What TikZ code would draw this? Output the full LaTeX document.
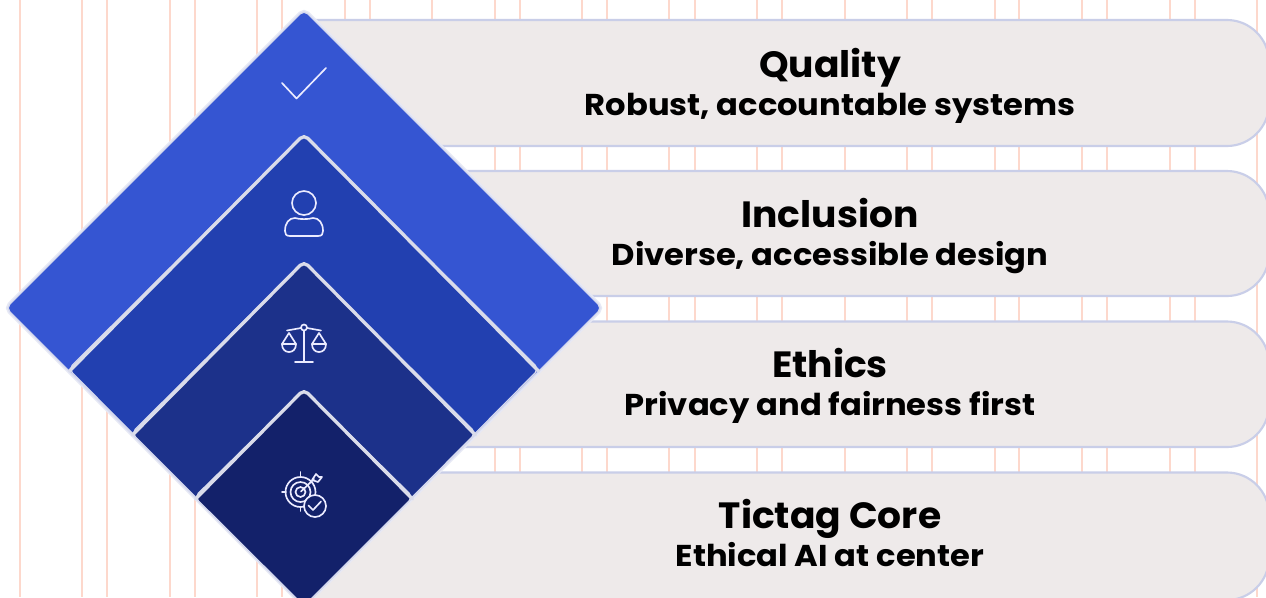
\documentclass[tikz,border=0pt]{standalone}
\usepackage{fontspec}
\setmainfont{Poppins}
\newfontfamily\titlefam{Poppins}[FakeStretch=1.03]
\newfontfamily\subfam{Poppins}[FakeStretch=1.067]
\definecolor{guide}{HTML}{FDD8CC}
\definecolor{pillfill}{HTML}{EEEAEA}
\definecolor{pilledge}{HTML}{C9CEE8}
\definecolor{halo}{HTML}{D5D9EE}
\definecolor{rim}{HTML}{DADCEA}
\definecolor{dA}{HTML}{3555D2}
\definecolor{dB}{HTML}{2240B0}
\definecolor{dC}{HTML}{1C318A}
\definecolor{dD}{HTML}{13216A}
\tikzset{
  x=0.75pt,y=-0.75pt,
  guideline/.style={draw=guide,line width=1.1pt},
  pill/.style={draw=pilledge,fill=pillfill,line width=1.6pt},
  diam/.style={draw=halo,line width=1pt,rounded corners=4pt},
  rimline/.style={draw=rim,line width=2.5pt,rounded corners=4pt,line cap=round},
  icon/.style={draw=white!92!blue,line width=1.25pt,line cap=round,line join=round},
  title/.style={font=\titlefam\bfseries\fontsize{27.4}{30}\selectfont,text=black,anchor=base,inner sep=0pt},
  sub/.style={font=\subfam\bfseries\fontsize{22.6}{24}\selectfont,text=black,anchor=base,inner sep=0pt},
}
\begin{document}
\begin{tikzpicture}
\useasboundingbox (0,0) rectangle (1266,597);
\clip (0,0) rectangle (1266,597);
\fill[white] (0,0) rectangle (1266,597);
% guide lines
\foreach \gx in {20,82,107,170,195,257,282,345,370,432,495,520,582,607,669,695,757,782,845,907,932,995,1019,1082,1107,1170,1195,1257}
  \draw[guideline] (\gx,0) -- (\gx,597);
% pills
\foreach \ty/\by in {20/146,171/296,321.5/447,472.5/600}{
  \pgfmathsetmacro{\cy}{\ty+42}
  \pgfmathsetmacro{\dy}{\by-42}
  \draw[pill] (300,\ty) -- (1227,\ty) .. controls (1250,\ty) and (1269,{\ty+19}) .. (1269,\cy)
     -- (1269,\dy) .. controls (1269,{\by-19}) and (1250,\by) .. (1227,\by) -- (300,\by) -- cycle;
}
% diamonds
\draw[draw=halo!60!white,line width=3.4pt,rounded corners=4pt] (304,10) -- (602,308) -- (304,606) -- (6,308) -- cycle;
\draw[diam,fill=dA] (304,10) -- (602,308) -- (304,606) -- (6,308) -- cycle;
\draw[diam,fill=dB] (304,134.5) -- (539,369) -- (304,606) -- (68.5,369) -- cycle;
\draw[rimline] (69.5,371) -- (304,134.5) -- (538.5,371);
\draw[diam,fill=dC] (304,261.5) -- (476,433) -- (304,606) -- (131.5,433) -- cycle;
\draw[rimline] (132.5,435) -- (304,261.5) -- (475.5,435);
\draw[diam,fill=dD] (304,389.5) -- (413,497) -- (304,606) -- (194.5,497) -- cycle;
\draw[rimline] (195.5,499) -- (304,389.5) -- (412.5,499);
% check icon
\draw[icon] (282,83) -- (296.5,98.5) -- (326,68);
% person icon
\draw[icon] (304,203) circle (12);
\draw[icon] (290,236) .. controls (286,236) and (285,234) .. (285,231)
  .. controls (285,223) and (289,218) .. (295,218) .. controls (300,219.5) and (308,219.5) .. (313,218)
  .. controls (319,218) and (323,223) .. (323,231) .. controls (323,234) and (322,236) .. (318,236) -- cycle;
% scales icon
\draw[icon] (304,331) -- (304,362);
\draw[icon] (295,362) -- (313,362);
\draw[icon] (304,327.5) circle (3);
\draw[icon] (287,330.5) -- (301,328);
\draw[icon] (307,328) -- (321,330.5);
\draw[icon] (282,344) -- (289,333) -- (296,344);
\draw[icon] (282,344) -- (296,344) .. controls (296,349) and (293,352) .. (289,352) .. controls (285,352) and (282,349) .. (282,344) -- cycle;
\draw[icon] (312,344) -- (319,333) -- (326,344);
\draw[icon] (312,344) -- (326,344) .. controls (326,349) and (323,352) .. (319,352) .. controls (315,352) and (312,349) .. (312,344) -- cycle;
% target icon
\draw[icon] (300.5,492) circle (15);
\draw[icon] (300.5,492) circle (10);
\draw[icon] (300.5,492) circle (5);
\draw[icon] (300.5,472) -- (300.5,477);
\draw[icon] (282,492) -- (286,492);
\draw[icon] (300.5,507) -- (300.5,511);
\draw[icon] (301,491.5) -- (314,479);
\draw[icon] (312,480) -- (316,474) -- (319,477) -- (322,477) -- (318,482) -- cycle;
\draw[icon,fill=dD] (315,506) circle (11);
\draw[icon] (308.5,505.5) -- (313,510) -- (321,501.5);
% labels
\node[title] (t1) at (830,77) {Quality};
\node[sub] (s1) at (830,115) {Robust, accountable systems};
\node[title] (t2) at (830,227) {Inclusion};
\node[sub] (s2) at (830,265) {Diverse, accessible design};
\node[title] (t3) at (830,377) {Ethics};
\node[sub] (s3) at (830,415) {Privacy and fairness first};
\node[title] (t4) at (830,528) {Tictag Core};
\node[sub] (s4) at (830,566) {Ethical AI at center};
\end{tikzpicture}
\end{document}
